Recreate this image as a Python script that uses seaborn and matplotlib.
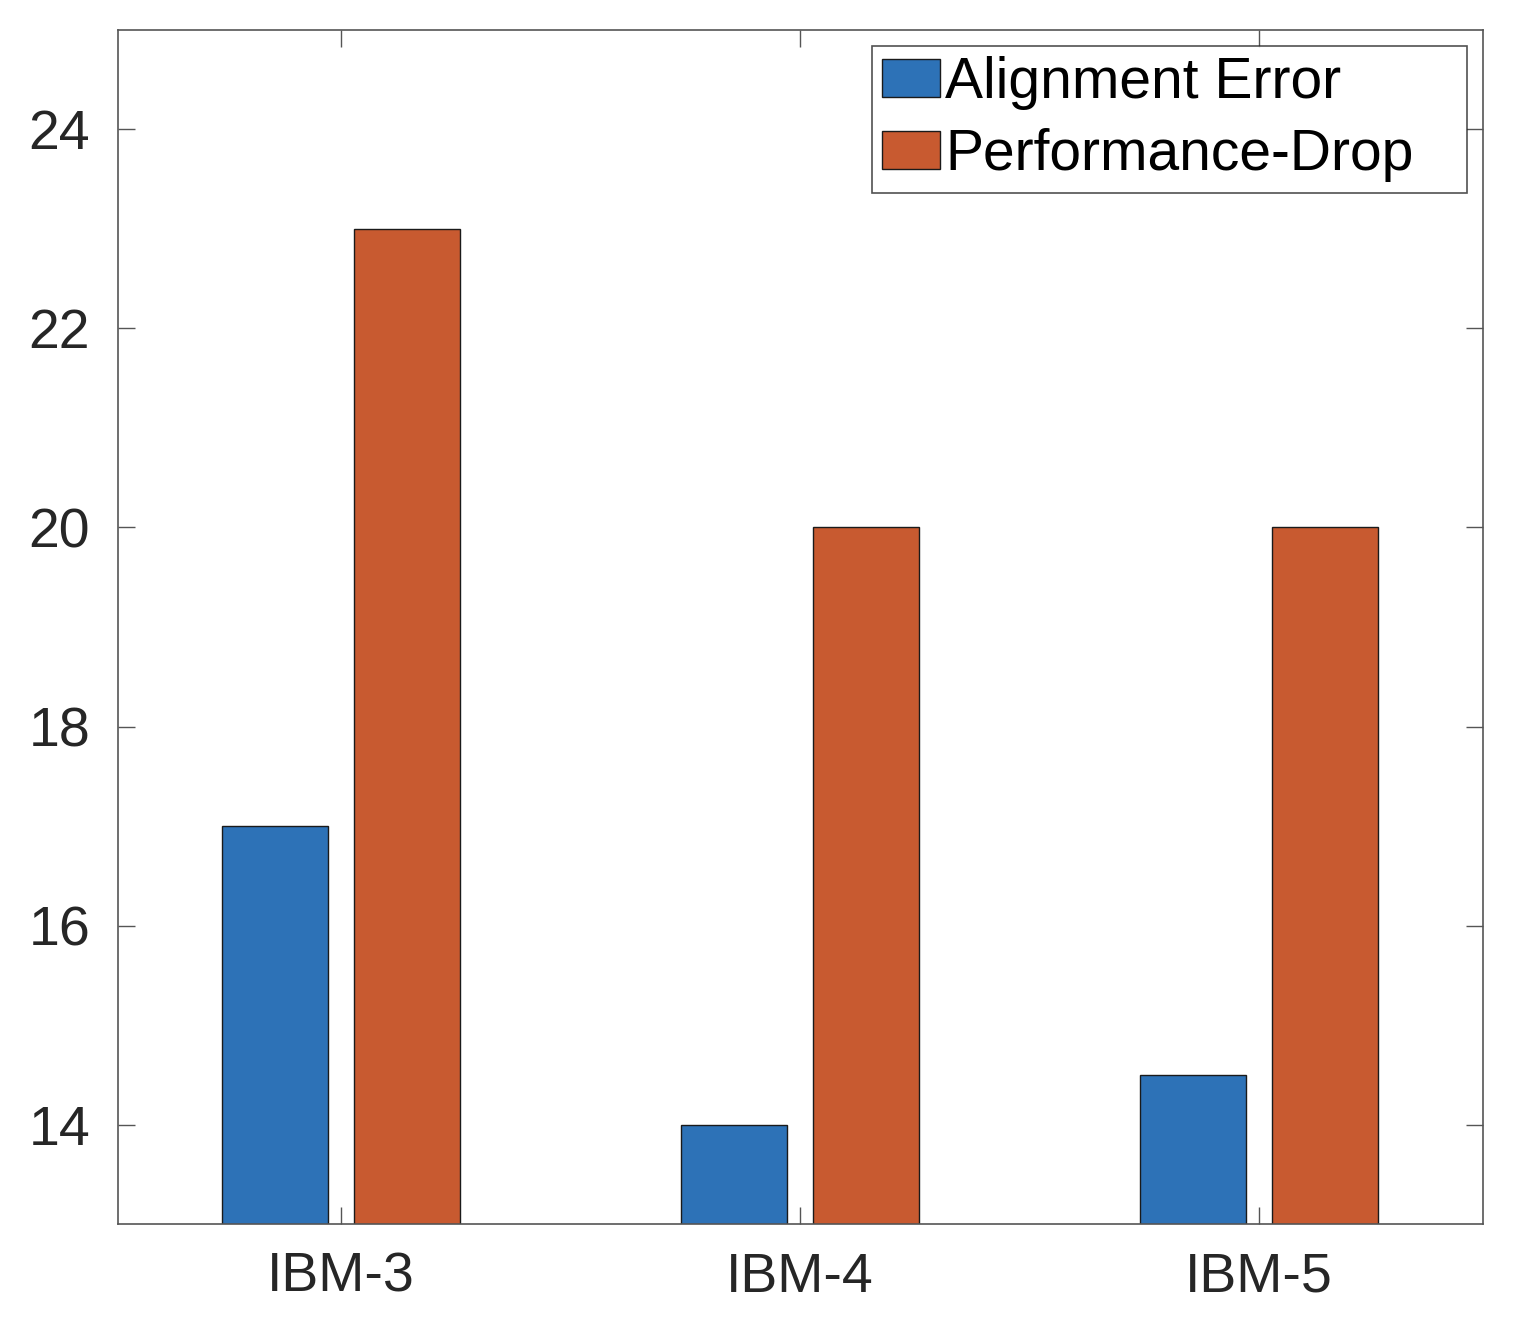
import pandas as pd
import matplotlib
matplotlib.use("Agg")
import matplotlib.pyplot as plt
import seaborn as sns

categories = ["IBM-3", "IBM-4", "IBM-5"]
series_names = ["Alignment Error", "Performance-Drop"]
alignment_error = [17.0, 14.0, 14.5]
performance_drop = [23.0, 20.0, 20.0]
y_ticks = [14, 16, 18, 20, 22, 24]

df = pd.DataFrame({
    "model": categories * 2,
    "metric": [series_names[0]] * 3 + [series_names[1]] * 3,
    "value": alignment_error + performance_drop,
})

sns.set_style("white")
plt.rcParams["font.family"] = ["Liberation Sans", "DejaVu Sans"]

fig = plt.figure(figsize=(15.28, 13.2), dpi=100)
ax = fig.add_axes([0.0772, 0.0727, 0.8933, 0.9046])

sns.barplot(
    data=df, x="model", y="value", hue="metric",
    palette=["#2D72B7", "#C85A30"], saturation=1, width=0.576, gap=0.2,
    edgecolor="#1a1a1a", linewidth=1.0, errorbar=None, ax=ax,
)

ax.set_ylim(13, 25)
ax.set_xlim(-0.486, 2.488)
ax.set_yticks(y_ticks)
ax.set_xlabel("")
ax.set_ylabel("")
ax.tick_params(axis="both", which="both", direction="in", length=12, width=1,
               color="#555555", labelsize=40, labelcolor="#262626",
               left=True, bottom=True, top=True, right=True, pad=20)
for s in ax.spines.values():
    s.set_color("#555555")
    s.set_linewidth(1.2)

# legend box stretched to the same width as the original (extra space on the right)
leg = ax.legend(
    loc="upper left", bbox_to_anchor=(0.5524, 0.8, 0.4356, 0.1866), mode="expand",
    fontsize=41, frameon=True, fancybox=False, handlelength=1.02, handleheight=0.65,
    handletextpad=0.09, borderpad=0.18, labelspacing=0.32, borderaxespad=0,
)
for t in leg.get_texts():
    t.set_color("black")
leg.get_frame().set_edgecolor("#262626")
leg.get_frame().set_linewidth(1.2)

fig.savefig("out.png", dpi=100)
